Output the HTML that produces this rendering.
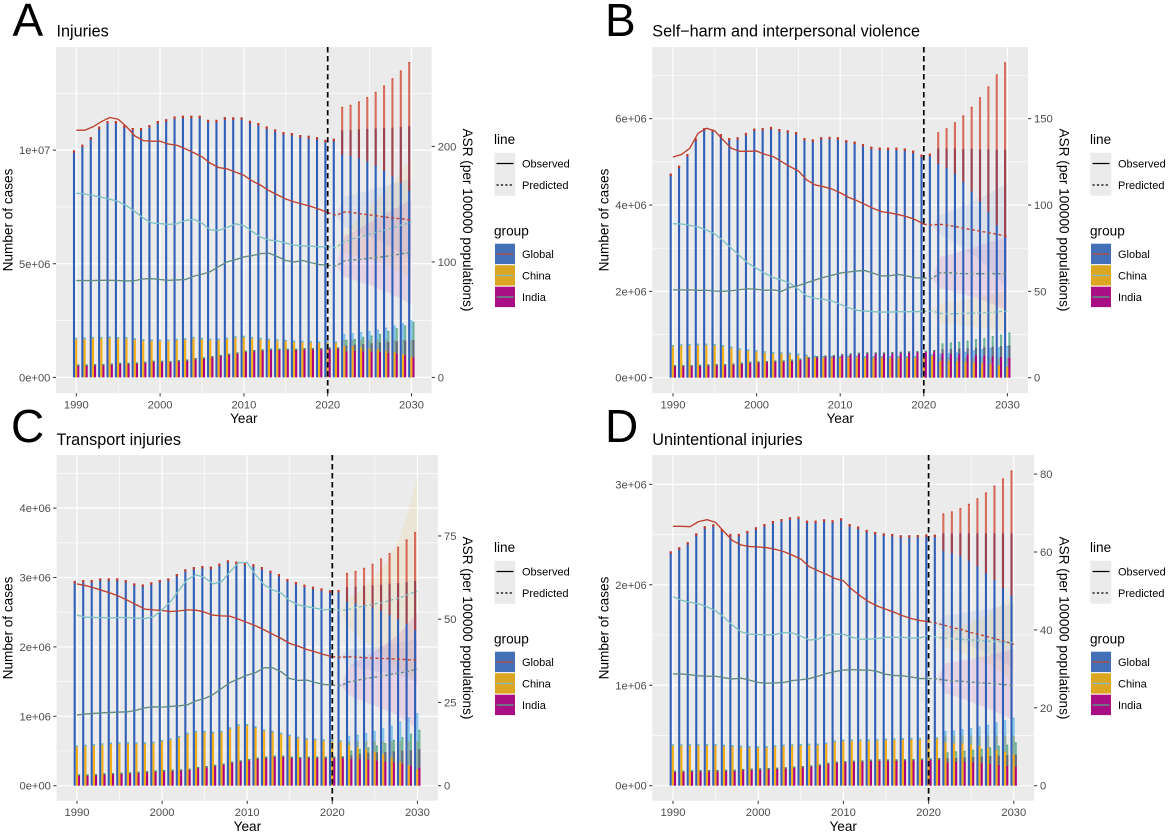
<!DOCTYPE html>
<html lang="en">
<head>
<meta charset="utf-8">
<title>Injury burden trends and predictions, 1990-2030</title>
<style>
html,body{margin:0;padding:0;background:#fff;}
svg{display:block;font-family:"Liberation Sans",Arial,sans-serif;}
.letter{font-size:46px;fill:#000;}
.title{font-size:16.2px;fill:#000;}
.axt{font-size:13.6px;fill:#000;text-anchor:middle;}
.lgt{font-size:13.6px;fill:#000;}
.lgl{font-size:11px;fill:#000;}
.tick{font-size:11.2px;fill:#4d4d4d;}
</style>
</head>
<body>
<svg id="chart" width="1169" height="834" viewBox="0 0 1169 834">
  <rect x="0" y="0" width="1169" height="834" fill="#fff"/>

  <g id="panel-a"></g>
  <g id="panel-b"></g>
  <g id="panel-c"></g>
  <g id="panel-d"></g>

  <text class="letter" x="12.5" y="36">A</text>
  <text class="letter" x="605" y="36">B</text>
  <text class="letter" x="11" y="442">C</text>
  <text class="letter" x="605" y="442">D</text>

  <text class="title" x="56.5" y="36.5">Injuries</text>
  <text class="title" x="652.3" y="36.5">Self−harm and interpersonal violence</text>
  <text class="title" x="56.5" y="445">Transport injuries</text>
  <text class="title" x="652.3" y="445">Unintentional injuries</text>

  <text class="axt" transform="translate(12.5,220) rotate(-90)">Number of cases</text>
  <text class="axt" transform="translate(608.5,220) rotate(-90)">Number of cases</text>
  <text class="axt" transform="translate(12.5,628) rotate(-90)">Number of cases</text>
  <text class="axt" transform="translate(608.5,628) rotate(-90)">Number of cases</text>

  <text class="axt" transform="translate(463,220) rotate(90)">ASR (per 100000 populations)</text>
  <text class="axt" transform="translate(1059.5,220) rotate(90)">ASR (per 100000 populations)</text>
  <text class="axt" transform="translate(463,628) rotate(90)">ASR (per 100000 populations)</text>
  <text class="axt" transform="translate(1059.5,628) rotate(90)">ASR (per 100000 populations)</text>

  <text class="axt" x="243.8" y="423">Year</text>
  <text class="axt" x="840.2" y="423">Year</text>
  <text class="axt" x="247.4" y="831">Year</text>
  <text class="axt" x="843.2" y="831">Year</text>

  <g transform="translate(494,0)">
    <text class="lgt" x="0" y="144">line</text>
    <rect x="0.3" y="152.7" width="21" height="43" fill="#ebebeb"/>
    <line x1="2.5" x2="19.5" y1="163.5" y2="163.5" stroke="#000" stroke-width="1.2"/>
    <line x1="2.5" x2="19.5" y1="185" y2="185" stroke="#000" stroke-width="1.2" stroke-dasharray="2.2 2.2"/>
    <text class="lgl" x="28" y="167.5">Observed</text>
    <text class="lgl" x="28" y="189">Predicted</text>
    <text class="lgt" x="0" y="235.5">group</text>
    <rect x="1" y="243.7" width="20" height="20.4" fill="#4470b8"/>
    <rect x="1" y="265.2" width="20" height="20.4" fill="#dca622"/>
    <rect x="1" y="286.7" width="20" height="20.4" fill="#a90e85"/>
    <line x1="2.5" x2="19.5" y1="254" y2="254" stroke="#c0493a" stroke-width="1.2"/>
    <line x1="2.5" x2="19.5" y1="275.5" y2="275.5" stroke="#7fc0c8" stroke-width="1.2"/>
    <line x1="2.5" x2="19.5" y1="297" y2="297" stroke="#5f9088" stroke-width="1.5"/>
    <text class="lgl" x="28" y="258">Global</text>
    <text class="lgl" x="28" y="279.5">China</text>
    <text class="lgl" x="28" y="301">India</text>
  </g>
  <g transform="translate(1090,0)">
    <text class="lgt" x="0" y="144">line</text>
    <rect x="0.3" y="152.7" width="21" height="43" fill="#ebebeb"/>
    <line x1="2.5" x2="19.5" y1="163.5" y2="163.5" stroke="#000" stroke-width="1.2"/>
    <line x1="2.5" x2="19.5" y1="185" y2="185" stroke="#000" stroke-width="1.2" stroke-dasharray="2.2 2.2"/>
    <text class="lgl" x="28" y="167.5">Observed</text>
    <text class="lgl" x="28" y="189">Predicted</text>
    <text class="lgt" x="0" y="235.5">group</text>
    <rect x="1" y="243.7" width="20" height="20.4" fill="#4470b8"/>
    <rect x="1" y="265.2" width="20" height="20.4" fill="#dca622"/>
    <rect x="1" y="286.7" width="20" height="20.4" fill="#a90e85"/>
    <line x1="2.5" x2="19.5" y1="254" y2="254" stroke="#c0493a" stroke-width="1.2"/>
    <line x1="2.5" x2="19.5" y1="275.5" y2="275.5" stroke="#7fc0c8" stroke-width="1.2"/>
    <line x1="2.5" x2="19.5" y1="297" y2="297" stroke="#5f9088" stroke-width="1.5"/>
    <text class="lgl" x="28" y="258">Global</text>
    <text class="lgl" x="28" y="279.5">China</text>
    <text class="lgl" x="28" y="301">India</text>
  </g>
  <g transform="translate(494,408)">
    <text class="lgt" x="0" y="144">line</text>
    <rect x="0.3" y="152.7" width="21" height="43" fill="#ebebeb"/>
    <line x1="2.5" x2="19.5" y1="163.5" y2="163.5" stroke="#000" stroke-width="1.2"/>
    <line x1="2.5" x2="19.5" y1="185" y2="185" stroke="#000" stroke-width="1.2" stroke-dasharray="2.2 2.2"/>
    <text class="lgl" x="28" y="167.5">Observed</text>
    <text class="lgl" x="28" y="189">Predicted</text>
    <text class="lgt" x="0" y="235.5">group</text>
    <rect x="1" y="243.7" width="20" height="20.4" fill="#4470b8"/>
    <rect x="1" y="265.2" width="20" height="20.4" fill="#dca622"/>
    <rect x="1" y="286.7" width="20" height="20.4" fill="#a90e85"/>
    <line x1="2.5" x2="19.5" y1="254" y2="254" stroke="#c0493a" stroke-width="1.2"/>
    <line x1="2.5" x2="19.5" y1="275.5" y2="275.5" stroke="#7fc0c8" stroke-width="1.2"/>
    <line x1="2.5" x2="19.5" y1="297" y2="297" stroke="#5f9088" stroke-width="1.5"/>
    <text class="lgl" x="28" y="258">Global</text>
    <text class="lgl" x="28" y="279.5">China</text>
    <text class="lgl" x="28" y="301">India</text>
  </g>
  <g transform="translate(1090,408)">
    <text class="lgt" x="0" y="144">line</text>
    <rect x="0.3" y="152.7" width="21" height="43" fill="#ebebeb"/>
    <line x1="2.5" x2="19.5" y1="163.5" y2="163.5" stroke="#000" stroke-width="1.2"/>
    <line x1="2.5" x2="19.5" y1="185" y2="185" stroke="#000" stroke-width="1.2" stroke-dasharray="2.2 2.2"/>
    <text class="lgl" x="28" y="167.5">Observed</text>
    <text class="lgl" x="28" y="189">Predicted</text>
    <text class="lgt" x="0" y="235.5">group</text>
    <rect x="1" y="243.7" width="20" height="20.4" fill="#4470b8"/>
    <rect x="1" y="265.2" width="20" height="20.4" fill="#dca622"/>
    <rect x="1" y="286.7" width="20" height="20.4" fill="#a90e85"/>
    <line x1="2.5" x2="19.5" y1="254" y2="254" stroke="#c0493a" stroke-width="1.2"/>
    <line x1="2.5" x2="19.5" y1="275.5" y2="275.5" stroke="#7fc0c8" stroke-width="1.2"/>
    <line x1="2.5" x2="19.5" y1="297" y2="297" stroke="#5f9088" stroke-width="1.5"/>
    <text class="lgl" x="28" y="258">Global</text>
    <text class="lgl" x="28" y="279.5">China</text>
    <text class="lgl" x="28" y="301">India</text>
  </g>
</svg>

<script>
// Shared categories
const years = [1990,1991,1992,1993,1994,1995,1996,1997,1998,1999,2000,2001,2002,2003,2004,2005,2006,2007,2008,2009,2010,2011,2012,2013,2014,2015,2016,2017,2018,2019,2020,2021,2022,2023,2024,2025,2026,2027,2028,2029,2030];
const forecastYears = [2022,2023,2024,2025,2026,2027,2028,2029,2030];
const bandYears = [2021,2022,2023,2024,2025,2026,2027,2028,2029,2030];
const xMajorTicks = [1990,2000,2010,2020,2030];
const xMinorTicks = [1995,2005,2015,2025];
const cutoffYear = 2020;

// Panel A: Injuries. Cases are in millions, ASR per 100000.
const A_leftTicks = [0,5,10];
const A_leftLabels = ['0e+00','5e+06','1e+07'];
const A_leftMinor = [2.5,7.5,12.5];
const A_rightTicks = [0,100,200];
const A_cases_global = [9.99,10.24,10.57,11.03,11.28,11.28,11.09,10.97,10.97,11.10,11.28,11.36,11.48,11.51,11.51,11.51,11.33,11.33,11.45,11.44,11.44,11.29,11.19,11.04,10.91,10.79,10.75,10.66,10.63,10.57,10.45,10.50,10.87,10.88,10.91,10.93,10.95,10.97,10.99,11.02,11.05];
const A_cases_china = [1.74,1.75,1.78,1.78,1.80,1.78,1.77,1.725,1.68,1.667,1.667,1.667,1.70,1.725,1.78,1.74,1.70,1.71,1.75,1.81,1.83,1.78,1.74,1.70,1.68,1.65,1.62,1.61,1.59,1.58,1.58,1.58,1.64,1.64,1.65,1.65,1.65,1.66,1.66,1.66,1.66];
const A_cases_india = [.57,.57,.585,.585,.61,.64,.64,.66,.69,.73,.73,.72,.76,.79,.85,.88,.94,.99,1.05,1.10,1.17,1.20,1.23,1.27,1.27,1.26,1.26,1.29,1.29,1.29,1.32,1.32,1.41,1.44,1.47,1.50,1.53,1.56,1.59,1.62,1.65];
const A_lower_global = [9.80,9.74,9.63,9.50,9.31,9.09,8.83,8.54,8.20];
const A_upper_global = [11.89,11.98,12.13,12.32,12.55,12.83,13.15,13.49,13.86];
const A_lower_china = [1.37,1.37,1.32,1.27,1.23,1.17,1.11,1.02,.91];
const A_upper_china = [1.90,1.93,1.99,2.03,2.09,2.18,2.27,2.37,2.50];
const A_lower_india = [1.14,1.16,1.14,1.13,1.11,1.07,1.04,.96,.88];
const A_upper_india = [1.64,1.68,1.77,1.83,1.90,2.03,2.15,2.27,2.43];
const A_asr_global = [214,214,217,221.5,225,223.5,217,209,205,204.5,204.5,202,201,198,194.6,191,185.4,181.7,180.5,177.7,175,170,166.4,161.7,158,154.5,152,150,148,145.6,142.7,140.4,143.3,142.7,141.5,140.7,139.8,138.7,137.8,137.2,136];
const A_asr_china = [159.5,158.7,157.5,156,154.3,152.3,148.6,143.6,137.9,133.8,133.2,132.4,133,135.8,137,133.5,127.7,127.2,129.8,133,131.5,126.3,121.4,119,118.2,116.2,114.5,113.9,113.6,113,113.3,112.4,117.6,120,122,124,126,128,130,132.4,134.4];
const A_asr_india = [83.8,83.8,83.8,84.1,84.1,83.8,83.5,83.8,85.3,85.5,84.7,84.1,84.4,84.7,87.6,89.3,91.6,96,100,102,104.3,105.5,107.2,107.5,104.6,101.2,100,101.2,99.4,97.7,97.1,96.5,100.9,101.7,102.3,103.2,104,104.9,106,107.2,108.4];
const A_bandHi_global = [141,157,158,160,162,164,166,168,170,172];
const A_bandLo_global = [140,130,128,125,122,119,115,111,107,102];
const A_bandHi_china = [113,125,133,140,148,155,163,171,180,190];
const A_bandLo_china = [112,108,106,104,102,100,97,94,90,85];
const A_bandHi_india = [97,122,126,130,134,138,142,146,150,155];
const A_bandLo_india = [96,87,85,82,80,77,74,71,67,63];

// Panel B: Self-harm and interpersonal violence
const B_leftTicks = [0,2,4,6];
const B_leftLabels = ['0e+00','2e+06','4e+06','6e+06'];
const B_leftMinor = [1,3,5,7];
const B_rightTicks = [0,50,100,150];
const B_cases_global = [4.73,4.91,5.18,5.54,5.78,5.75,5.64,5.55,5.57,5.67,5.77,5.78,5.81,5.76,5.73,5.69,5.55,5.52,5.57,5.58,5.57,5.50,5.47,5.41,5.35,5.33,5.33,5.33,5.31,5.26,5.17,5.19,5.31,5.31,5.31,5.30,5.30,5.29,5.29,5.28,5.28];
const B_cases_china = [.757,.772,.78,.788,.788,.78,.757,.718,.68,.656,.64,.61,.595,.587,.579,.556,.533,.51,.50,.50,.50,.51,.51,.50,.50,.50,.50,.50,.50,.50,.525,.54,.48,.48,.48,.47,.47,.47,.47,.47,.47];
const B_cases_india = [.293,.293,.293,.30,.31,.317,.317,.33,.347,.37,.378,.386,.40,.40,.417,.44,.48,.50,.517,.525,.548,.564,.58,.587,.587,.587,.595,.60,.61,.618,.625,.64,.66,.665,.675,.685,.695,.705,.72,.735,.75];
const B_lower_global = [4.95,4.86,4.72,4.53,4.31,4.08,3.83,3.53,3.25];
const B_upper_global = [5.68,5.77,5.91,6.07,6.27,6.49,6.74,7.02,7.30];
const B_lower_china = [.386,.386,.386,.37,.35,.33,.31,.286,.25];
const B_upper_china = [.55,.565,.58,.595,.625,.655,.685,.70,.73];
const B_lower_india = [.564,.548,.548,.533,.517,.51,.494,.48,.456];
const B_upper_india = [.788,.81,.826,.85,.888,.91,.958,.99,1.04];
const B_asr_global = [127.8,129.2,132.8,141.5,144.4,142.9,137.6,132.8,131.1,131.1,131.3,129.3,128,125.1,122.2,119.7,114.5,111.6,110.6,109.3,107.1,104.4,102.5,100.2,97.9,96.1,95.4,94.4,93.2,91.5,88.8,88.4,88.8,88.2,87.3,86.3,85.5,84.6,83.8,82.8,81.7];
const B_asr_china = [89.2,89,88.2,87.3,85.5,83.2,79.3,74.9,70.5,66.2,63.3,60.4,57.9,56.6,54.6,51.2,47.3,45.9,45.4,44.4,42.5,40.5,39,38.6,38.2,38,38,38.2,38.2,38.2,38.4,38.6,37.3,36.9,37.1,37.3,37.5,37.6,37.8,38.2,38.6];
const B_asr_india = [50.8,50.8,50.8,50.6,50.6,50.2,50,50.4,51,51.5,51.2,50.6,50.8,50,52.3,53.3,55,56.6,58.1,59.3,60.6,61.2,61.8,62,60.4,58.9,59.1,59.8,58.9,57.9,57.7,57.5,60.8,60.8,60.4,60.2,60.2,60.2,60.2,60.2,60.2];
const B_bandHi_global = [88.8,94.2,96,98,100,102,104.5,107,110,112.5];
const B_bandLo_global = [88,82.6,80,77,74,70.5,67,62,57,51];
const B_bandHi_china = [38.8,43,43.5,44.2,45,46,47,48,49.3,50.8];
const B_bandLo_china = [38.4,31.5,31,30.5,30,29.5,29,28.3,27.5,26.6];
const B_bandHi_india = [57.8,70,71,72.5,74,75.5,77,78.5,80,81.7];
const B_bandLo_india = [57.2,51.7,50.5,49,48,46.5,45,43,41,39.2];

// Panel C: Transport injuries
const C_leftTicks = [0,1,2,3,4];
const C_leftLabels = ['0e+00','1e+06','2e+06','3e+06','4e+06'];
const C_leftMinor = [.5,1.5,2.5,3.5,4.5];
const C_rightTicks = [0,25,50,75];
const C_cases_global = [2.95,2.963,2.963,2.987,2.987,2.987,2.96,2.915,2.90,2.93,2.963,2.987,3.05,3.117,3.15,3.165,3.156,3.20,3.247,3.228,3.213,3.19,3.15,3.098,3.05,2.978,2.935,2.896,2.867,2.843,2.815,2.82,2.86,2.867,2.877,2.887,2.896,2.91,2.92,2.935,2.95];
const C_cases_china = [.58,.59,.60,.61,.62,.625,.625,.625,.625,.634,.658,.682,.716,.764,.79,.79,.778,.79,.84,.884,.889,.855,.81,.79,.764,.735,.706,.687,.677,.668,.658,.653,.64,.64,.64,.64,.64,.64,.64,.64,.64];
const C_cases_india = [.163,.163,.168,.178,.183,.187,.192,.20,.21,.22,.226,.23,.235,.245,.27,.283,.30,.32,.346,.365,.384,.403,.418,.432,.432,.418,.413,.418,.418,.418,.418,.423,.437,.456,.475,.48,.485,.495,.504,.514,.528];
const C_lower_global = [2.65,2.627,2.603,2.57,2.52,2.46,2.40,2.33,2.24];
const C_upper_global = [3.064,3.09,3.136,3.194,3.27,3.348,3.44,3.545,3.65];
const C_lower_china = [.586,.552,.533,.49,.456,.408,.346,.298,.235];
const C_upper_china = [.716,.73,.754,.783,.82,.86,.92,.98,1.042];
const C_lower_india = [.38,.38,.375,.36,.346,.33,.312,.288,.26];
const C_upper_india = [.50,.524,.548,.576,.61,.658,.696,.744,.80];
const C_asr_global = [60.6,60.1,59.4,58.6,57.8,56.8,55.6,54.3,53,52.8,52.6,52.3,52.5,52.8,52.7,52.1,51.2,51,50.9,50,49,48,46.8,45.5,44.2,42.7,41.9,40.9,40.2,39.4,38.7,38.6,38.7,38.6,38.4,38.3,38.2,38.1,38,37.8,37.7];
const C_asr_china = [51.2,50.6,50.5,50.5,50.4,50.5,50.5,50.3,50.2,50.8,52.8,55.3,58.8,62,63.3,62.5,60.6,61.3,64.3,67,67,63.3,60.3,58.8,57.8,55.6,54.3,53.8,53.3,52.8,53,52.6,53,53.6,54.1,54.6,55.1,55.8,56.5,57.5,58.5];
const C_asr_india = [21.2,21.5,21.7,21.9,22,22.1,22.2,22.7,23.4,23.7,23.6,23.8,24,24.3,25.5,26.2,27.4,29.2,31,32.1,33.2,34,35.4,35.4,34.2,32.2,31.6,31.7,31,30.4,30.2,30.1,31.2,31.7,32.2,32.6,33,33.5,33.9,34.4,35];
const C_bandHi_global = [38.8,41,41.2,41.5,41.7,42,42.5,43,43.5,44];
const C_bandLo_global = [38.5,36,35.5,35,34.5,34,33.5,33,32,31];
const C_bandHi_china = [52.8,56.5,58,60,63,66,70,75,83,93];
const C_bandLo_china = [52.4,47,45,43,41,39,37,35,33,30];
const C_bandHi_india = [30.3,36,37.5,39,40.5,42,44,46,49,52];
const C_bandLo_india = [30,27,26,25,24,23,22,20.5,19,17];

// Panel D: Unintentional injuries
const D_leftTicks = [0,1,2,3];
const D_leftLabels = ['0e+00','1e+06','2e+06','3e+06'];
const D_leftMinor = [.5,1.5,2.5];
const D_rightTicks = [0,20,40,60,80];
const D_cases_global = [2.333,2.373,2.423,2.512,2.582,2.602,2.552,2.506,2.506,2.536,2.572,2.605,2.635,2.655,2.672,2.678,2.639,2.639,2.652,2.642,2.662,2.605,2.579,2.546,2.526,2.512,2.506,2.493,2.493,2.496,2.502,2.499,2.512,2.512,2.512,2.512,2.512,2.512,2.512,2.512,2.512];
const D_cases_china = [.412,.412,.415,.415,.415,.415,.408,.405,.398,.395,.392,.395,.402,.408,.412,.415,.418,.418,.428,.448,.458,.461,.461,.461,.465,.468,.471,.475,.475,.475,.478,.481,.498,.498,.498,.498,.498,.498,.498,.498,.498];
const D_cases_india = [.149,.149,.153,.156,.156,.156,.159,.159,.166,.169,.173,.176,.179,.183,.189,.196,.202,.212,.229,.239,.246,.249,.252,.259,.262,.262,.262,.266,.266,.269,.272,.275,.272,.277,.281,.286,.291,.295,.30,.305,.309];
const D_lower_global = [2.336,2.313,2.287,2.24,2.184,2.114,2.048,1.968,1.892];
const D_upper_global = [2.708,2.728,2.761,2.804,2.858,2.917,2.984,3.057,3.136];
const D_lower_china = [.431,.42,.42,.408,.395,.378,.355,.339,.315];
const D_upper_china = [.544,.548,.561,.571,.587,.604,.627,.65,.674];
const D_lower_india = [.229,.236,.236,.229,.222,.216,.206,.196,.189];
const D_upper_india = [.329,.339,.345,.355,.365,.378,.395,.405,.428];
const D_asr_global = [66.6,66.6,66.5,67.8,68.3,67.6,65.2,62.9,61.8,61.4,61.3,61.1,60.7,60.1,59.2,58.2,56.2,55.2,54.3,53.2,52.6,50.4,48.7,47.2,46.1,45.3,44.5,43.6,42.9,42.4,42.1,41.7,41.1,40.5,40,39.3,38.8,38.2,37.6,37,36.3];
const D_asr_china = [48.5,47.6,47.1,46.7,45.9,44.9,43.2,41.2,39.5,38.9,38.8,38.7,38.8,39.3,39.2,38.4,37.4,37.6,38.6,38.9,38.9,38.1,37.6,37.6,37.8,38.1,38.1,38.1,37.9,38,38.5,38.1,37.9,37.7,37.6,37.4,37.3,37.1,37,36.9,36.7];
const D_asr_india = [28.7,28.7,28.5,28.2,28.1,28.1,27.7,27.4,27.6,27.1,26.5,26.3,26.4,26.5,27,27.2,27.5,28.1,28.8,29.3,29.7,29.8,29.7,29.7,29.3,28.6,28.3,28.2,27.9,27.5,27.5,27.4,27.1,26.9,26.8,26.6,26.4,26.3,26.1,25.9,25.7];
const D_bandHi_global = [41.8,43.8,44,44.3,44.7,45,45.4,45.8,46.2,46.7];
const D_bandLo_global = [41.6,38.5,37.6,36.7,35.8,34.8,33.8,32.6,31.3,30];
const D_bandHi_china = [38.2,40.2,40.6,41.2,42,43,44.2,45.6,47.3,49.4];
const D_bandLo_china = [38,35.5,34.8,34,33.2,32.3,31.3,30,28.3,26.5];
const D_bandHi_india = [27.5,31.4,31.8,32.2,32.6,33,33.4,33.9,34.5,35.2];
const D_bandLo_india = [27.3,23.7,23,22.3,21.5,20.7,19.8,18.9,17.9,16.9];

// Layout and styling
const SVG_NS = document.getElementById('chart').namespaceURI;
const seriesStyle = {
  global:{bar:'#2f5fb9',err:'#d0351f',line:'#bd3f30',band:'#4a72c8',offset:-2.3,cap:2.4},
  china:{bar:'#f2ae14',err:'#58b4e8',line:'#7fc0c4',band:'#e6b428',offset:-0.1,cap:1.4},
  india:{bar:'#ab007f',err:'#3f9c78',line:'#5f8a85',band:'#b4009a',offset:2.0,cap:1.4}
};
const seriesOrder = ['global','china','india'];
const BAR_WIDTH = 2.1;

const panels = [
  {id:'a',left:56,right:431.7,top:47,bottom:393.2,x0:76.3,xk:8.38,zero:377.4,kL:22.73,kR:1.155,
   leftTicks:A_leftTicks,leftLabels:A_leftLabels,leftMinor:A_leftMinor,rightTicks:A_rightTicks,
   cases:{global:A_cases_global,china:A_cases_china,india:A_cases_india},
   lower:{global:A_lower_global,china:A_lower_china,india:A_lower_india},
   upper:{global:A_upper_global,china:A_upper_china,india:A_upper_india},
   asr:{global:A_asr_global,china:A_asr_china,india:A_asr_india},
   bandHi:{global:A_bandHi_global,china:A_bandHi_china,india:A_bandHi_india},
   bandLo:{global:A_bandLo_global,china:A_bandLo_china,india:A_bandLo_india}},
  {id:'b',left:652.3,right:1028,top:47,bottom:393.2,x0:673,xk:8.36,zero:377.7,kL:43.17,kR:1.727,
   leftTicks:B_leftTicks,leftLabels:B_leftLabels,leftMinor:B_leftMinor,rightTicks:B_rightTicks,
   cases:{global:B_cases_global,china:B_cases_china,india:B_cases_india},
   lower:{global:B_lower_global,china:B_lower_china,india:B_lower_india},
   upper:{global:B_upper_global,china:B_upper_china,india:B_upper_india},
   asr:{global:B_asr_global,china:B_asr_china,india:B_asr_india},
   bandHi:{global:B_bandHi_global,china:B_bandHi_china,india:B_bandHi_india},
   bandLo:{global:B_bandLo_global,china:B_bandLo_china,india:B_bandLo_india}},
  {id:'c',left:56.5,right:438,top:455,bottom:800.7,x0:77,xk:8.51,zero:785.7,kL:69.4,kR:3.33,
   leftTicks:C_leftTicks,leftLabels:C_leftLabels,leftMinor:C_leftMinor,rightTicks:C_rightTicks,
   cases:{global:C_cases_global,china:C_cases_china,india:C_cases_india},
   lower:{global:C_lower_global,china:C_lower_china,india:C_lower_india},
   upper:{global:C_upper_global,china:C_upper_china,india:C_upper_india},
   asr:{global:C_asr_global,china:C_asr_china,india:C_asr_india},
   bandHi:{global:C_bandHi_global,china:C_bandHi_china,india:C_bandHi_india},
   bandLo:{global:C_bandLo_global,china:C_bandLo_china,india:C_bandLo_india}},
  {id:'d',left:652.3,right:1034,top:455,bottom:800.7,x0:673,xk:8.52,zero:785.7,kL:100.45,kR:3.895,
   leftTicks:D_leftTicks,leftLabels:D_leftLabels,leftMinor:D_leftMinor,rightTicks:D_rightTicks,
   cases:{global:D_cases_global,china:D_cases_china,india:D_cases_india},
   lower:{global:D_lower_global,china:D_lower_china,india:D_lower_india},
   upper:{global:D_upper_global,china:D_upper_china,india:D_upper_india},
   asr:{global:D_asr_global,china:D_asr_china,india:D_asr_india},
   bandHi:{global:D_bandHi_global,china:D_bandHi_china,india:D_bandHi_india},
   bandLo:{global:D_bandLo_global,china:D_bandLo_china,india:D_bandLo_india}}
];

// Axis functions
function xAxis(p, year){ return p.x0 + (year - 1990) * p.xk; }
function yLeft(p, millions){ return p.zero - millions * p.kL; }
function yRight(p, asr){ return p.zero - asr * p.kR; }

function make(tag, parent, attrs, text){
  const el = document.createElementNS(SVG_NS, tag);
  for (const k in attrs) el.setAttribute(k, attrs[k]);
  if (text !== undefined) el.textContent = text;
  parent.appendChild(el);
  return el;
}

function drawPanel(p){
  const g = document.getElementById('panel-' + p.id);

  const bg = make('rect', g, {x:p.left,y:p.top,width:p.right-p.left,height:p.bottom-p.top,fill:'#ebebeb'});
  
  

  p.leftMinor.forEach(function(v){
    const y = yLeft(p, v);
    if (y < p.top) return;
    const l = make('line', g, {x1:p.left,x2:p.right,y1:y,y2:y,stroke:'#fff','stroke-width':0.6});
    
    
  });
  xMinorTicks.forEach(function(v){
    const x = xAxis(p, v);
    const l = make('line', g, {x1:x,x2:x,y1:p.top,y2:p.bottom,stroke:'#fff','stroke-width':0.6});
    
    
  });
  p.leftTicks.forEach(function(v, i){
    const y = yLeft(p, v);
    const l = make('line', g, {x1:p.left,x2:p.right,y1:y,y2:y,stroke:'#fff','stroke-width':1.2});
    
    
    const t = make('line', g, {x1:p.left-3.2,x2:p.left,y1:y,y2:y,stroke:'#333','stroke-width':1});
    
    
    const lab = make('text', g, {x:p.left-5.6,y:y+4,'text-anchor':'end','class':'tick'}, p.leftLabels[i]);
    
    
  });
  p.rightTicks.forEach(function(v){
    const y = yRight(p, v);
    const t = make('line', g, {x1:p.right,x2:p.right+3.2,y1:y,y2:y,stroke:'#333','stroke-width':1});
    
    
    const lab = make('text', g, {x:p.right+6,y:y+4,'class':'tick'}, String(v));
    
    
  });
  xMajorTicks.forEach(function(v){
    const x = xAxis(p, v);
    const l = make('line', g, {x1:x,x2:x,y1:p.top,y2:p.bottom,stroke:'#fff','stroke-width':1.2});
    
    
    const t = make('line', g, {x1:x,x2:x,y1:p.bottom,y2:p.bottom+3.2,stroke:'#333','stroke-width':1});
    
    
    const lab = make('text', g, {x:x,y:p.bottom+15.3,'text-anchor':'middle','class':'tick'}, String(v));
    
    
  });

  // Ribbons sit beneath the bars so the bars stay saturated
  seriesOrder.forEach(function(s){
    const st = seriesStyle[s];
    const hi = p.bandHi[s], lo = p.bandLo[s];
    const up = bandYears.map(function(y, i){ return xAxis(p, y) + ',' + yRight(p, hi[i]); });
    const dn = bandYears.map(function(y, i){ return xAxis(p, y) + ',' + yRight(p, lo[i]); }).reverse();
    const band = make('polygon', g, {points:up.concat(dn).join(' '),fill:st.band,'fill-opacity':0.1});
    
    
  });

  // Bars with interval overlays
  seriesOrder.forEach(function(s){
    const st = seriesStyle[s];
    const cases = p.cases[s], lower = p.lower[s], upper = p.upper[s];
    years.forEach(function(year, i){
      const bx = xAxis(p, year) + st.offset - BAR_WIDTH / 2;
      const top = yLeft(p, cases[i]);
      const bar = make('rect', g, {x:bx,y:top,width:BAR_WIDTH,height:Math.max(0, yLeft(p, 0)-top),fill:st.bar});
      
      
      const fi = forecastYears.indexOf(year);
      if (fi < 0) {
        const cap = make('rect', g, {x:bx,y:top,width:BAR_WIDTH,height:st.cap,fill:s==='global'?'#d0351f':st.err});
        
        
      } else {
        const yHi = yLeft(p, upper[fi]), yLo = yLeft(p, lower[fi]);
        const err = make('rect', g, {x:bx,y:yHi,width:BAR_WIDTH,height:Math.max(0, yLo-yHi),fill:st.err,'fill-opacity':0.7});
        
        
        const tip = make('rect', g, {x:bx+0.3,y:yHi-0.3,width:BAR_WIDTH-0.6,height:1,fill:st.err});
        
        
      }
    });
  });

  // ASR lines
  seriesOrder.forEach(function(s){
    const st = seriesStyle[s];
    const asr = p.asr[s];
    const obsPts = [], prePts = [];
    years.forEach(function(year, i){
      const pt = xAxis(p, year) + ',' + yRight(p, asr[i]);
      if (year <= cutoffYear) obsPts.push(pt);
      if (year >= cutoffYear) prePts.push(pt);
    });
    const obs = make('polyline', g, {points:obsPts.join(' '),fill:'none',stroke:st.line,'stroke-width':1.35,'stroke-linejoin':'round'});
    
    
    const pre = make('polyline', g, {points:prePts.join(' '),fill:'none',stroke:st.line,'stroke-width':1.35,'stroke-dasharray':'3 2.4'});
    
    
  });

  // Observed / predicted divider
  const cx = xAxis(p, cutoffYear);
  const divider = make('line', g, {x1:cx,x2:cx,y1:p.top,y2:p.bottom,stroke:'#000','stroke-width':1.7,'stroke-dasharray':'5.5 3.5'});
  
  
}

panels.forEach(drawPanel);
</script>
</body>
</html>
